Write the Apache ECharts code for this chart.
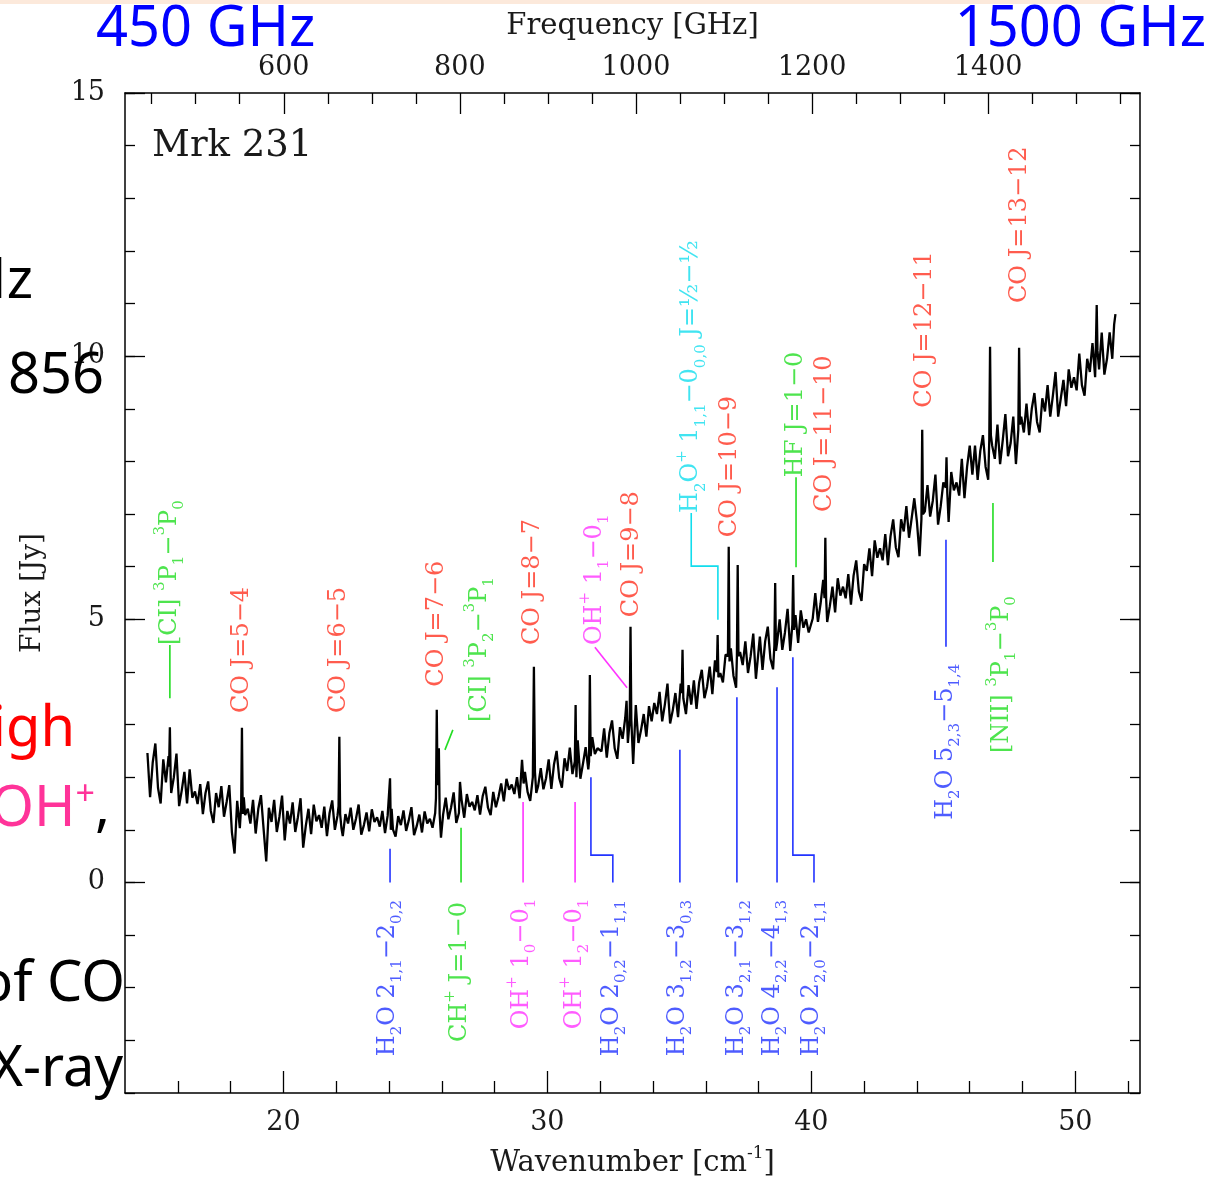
<!DOCTYPE html>
<html>
<head>
<meta charset="utf-8">
<script src="https://cdn.jsdelivr.net/npm/echarts@6/dist/echarts.min.js"></script>
<style>
  html, body { margin: 0; background: #fff; }
  #chart { width: 1225px; height: 1180px; }
</style>
</head>
<body>
<div id="chart"></div>
<script>
// Mrk 231 FTS spectrum, wavenumber [cm^-1] vs flux [Jy]
const spectrum = [
  [14.85,2.46],[14.95,1.62],[15.05,2.28],[15.15,2.64],[15.25,1.80],[15.35,1.50],[15.45,2.34],[15.55,1.90],
  [15.65,2.40],[15.67,2.20],[15.70,2.95],[15.73,2.00],[15.75,1.70],[15.85,2.00],[15.95,2.45],[16.05,1.45],
  [16.15,1.75],[16.25,2.10],[16.35,1.50],[16.45,2.15],[16.55,1.61],[16.65,1.73],[16.75,1.49],[16.85,1.87],
  [16.95,1.30],[17.05,1.70],[17.15,1.92],[17.25,1.36],[17.35,1.13],[17.45,1.70],[17.55,1.43],[17.65,1.83],
  [17.75,1.25],[17.85,1.53],[17.95,1.85],[18.05,0.95],[18.15,0.55],[18.25,1.55],[18.35,1.03],[18.40,1.45],
  [18.43,2.94],[18.46,1.30],[18.50,1.62],[18.55,1.28],[18.65,1.40],[18.75,1.12],[18.85,1.57],[18.95,0.93],
  [19.05,1.40],[19.15,1.66],[19.25,1.02],[19.35,0.40],[19.45,1.42],[19.55,1.15],[19.65,1.57],[19.75,0.96],
  [19.85,1.25],[19.95,1.65],
  [20.05,0.80],[20.15,1.36],[20.25,1.12],[20.35,1.52],[20.45,0.96],[20.55,1.24],[20.65,1.60],[20.75,0.66],
  [20.85,1.08],[20.95,1.40],[21.05,0.92],[21.15,1.48],[21.25,1.16],[21.35,1.28],[21.45,1.04],[21.55,1.44],
  [21.65,0.88],[21.75,1.32],[21.85,1.56],[21.95,1.00],
  [22.05,1.27],[22.09,1.45],[22.12,2.77],[22.15,1.30],[22.20,1.03],[22.25,0.88],[22.35,1.30],[22.45,1.12],
  [22.55,1.42],[22.65,1.00],[22.75,1.21],[22.85,1.48],[22.95,0.91],[23.05,1.09],[23.15,1.33],[23.25,0.97],
  [23.35,1.39],[23.45,1.15],[23.55,1.24],[23.65,1.06],[23.75,1.36],[23.85,0.94],[23.95,1.27],
  [24.01,1.25],[24.04,1.98],[24.07,1.00],[24.10,1.40],[24.15,1.01],[24.25,0.87],[24.35,1.26],[24.45,1.09],
  [24.55,1.37],[24.65,0.98],[24.75,1.18],[24.85,1.43],[24.95,0.90],[25.05,1.07],[25.15,1.29],[25.25,0.95],
  [25.35,1.35],[25.45,1.12],[25.55,1.21],[25.65,1.04],[25.75,1.32],[25.78,1.60],[25.81,3.28],[25.84,1.85],
  [25.87,2.00],[25.89,2.55],[25.92,1.30],[25.97,0.85],
  [26.05,1.29],[26.15,1.61],[26.25,1.20],[26.35,1.42],[26.45,1.71],[26.55,1.13],[26.65,1.32],[26.69,1.91],
  [26.75,1.57],[26.85,1.23],[26.95,1.68],[27.05,1.44],[27.15,1.53],[27.25,1.37],[27.35,1.66],[27.45,1.29],
  [27.55,1.64],[27.65,1.82],[27.75,1.42],[27.85,1.28],[27.95,1.72],
  [28.05,1.43],[28.15,1.63],[28.25,1.88],[28.35,1.54],[28.45,1.97],[28.55,1.76],[28.65,1.86],[28.75,1.68],
  [28.85,2.00],[28.95,1.60],[29.04,2.33],[29.10,1.88],[29.15,2.10],[29.25,1.72],[29.35,1.55],[29.45,2.00],
  [29.49,4.10],[29.53,2.10],[29.58,1.70],[29.65,1.83],[29.75,2.17],[29.85,1.77],[29.95,1.98],
  [30.05,2.34],[30.15,1.78],[30.25,2.24],[30.35,2.50],[30.45,1.98],[30.55,1.80],[30.65,2.36],[30.75,2.12],
  [30.85,2.56],[30.95,2.06],[31.04,2.30],[31.07,3.37],[31.10,2.00],[31.15,2.70],[31.25,1.97],[31.35,2.26],
  [31.45,2.57],[31.55,2.15],[31.58,2.30],[31.61,3.94],[31.64,2.40],[31.70,2.76],[31.80,2.44],[31.90,2.55],
  [32.05,2.49],[32.15,2.93],[32.25,2.37],[32.35,2.84],[32.45,3.08],[32.55,2.55],[32.65,2.35],[32.75,2.95],
  [32.85,2.73],[32.95,3.13],[33.00,3.45],[33.05,2.65],[33.12,3.10],[33.15,4.86],[33.18,3.10],[33.25,2.25],
  [33.35,3.37],[33.45,2.65],[33.55,2.90],[33.65,3.20],[33.75,2.77],[33.85,3.35],[33.95,3.06],
  [34.05,3.41],[34.15,3.20],[34.25,3.62],[34.35,3.06],[34.45,3.38],[34.55,3.78],[34.65,3.02],[34.75,3.27],
  [34.85,3.60],[34.95,3.14],[35.05,3.78],[35.09,3.60],[35.12,4.42],[35.15,3.50],[35.25,3.20],[35.35,3.75],
  [35.45,3.38],[35.55,3.84],[35.65,3.30],[35.75,3.80],[35.85,4.04],[35.95,3.50],
  [36.05,3.72],[36.15,4.10],[36.25,3.58],[36.35,4.22],[36.42,4.00],[36.45,4.70],[36.48,3.90],[36.55,3.98],
  [36.65,3.80],[36.75,4.33],[36.84,4.30],[36.87,6.38],[36.90,4.20],[36.95,4.45],[37.05,3.93],[37.15,3.70],
  [37.18,4.30],[37.21,6.03],[37.24,4.30],[37.30,4.38],[37.40,4.13],[37.50,4.58],[37.60,3.98],[37.70,4.30],
  [37.80,4.73],[37.90,3.87],
  [38.05,4.67],[38.15,4.04],[38.25,4.58],[38.35,4.86],[38.45,4.25],[38.55,4.05],[38.60,4.50],[38.63,5.69],
  [38.66,4.40],[38.70,4.55],[38.80,5.00],[38.90,4.42],[39.00,4.75],[39.10,5.20],[39.20,4.40],[39.28,4.90],
  [39.31,5.84],[39.34,4.80],[39.40,5.08],[39.50,4.55],[39.60,5.17],[39.70,4.84],[39.80,5.00],[39.90,4.75],
  [40.05,5.01],[40.15,5.50],[40.25,4.95],[40.35,5.30],[40.45,5.75],[40.50,5.40],[40.53,6.55],[40.56,5.40],
  [40.60,4.95],[40.70,5.25],[40.80,5.62],[40.90,5.13],[41.00,5.78],[41.10,5.45],[41.20,5.62],[41.30,5.40],
  [41.40,5.86],[41.50,5.28],[41.60,5.83],[41.70,6.12],[41.80,5.53],[41.90,5.35],
  [42.00,6.05],[42.10,5.92],[42.20,6.35],[42.30,5.82],[42.40,6.50],[42.50,6.17],[42.60,6.35],[42.70,6.12],
  [42.80,6.62],[42.90,6.03],[43.00,6.58],[43.10,6.90],[43.20,6.37],[43.30,6.18],[43.40,6.90],[43.50,6.67],
  [43.60,7.15],[43.70,6.55],[43.80,6.92],[43.90,7.30],[44.00,6.85],
  [44.10,6.20],[44.17,6.90],[44.20,8.60],[44.23,7.00],[44.30,7.05],[44.40,7.55],[44.50,6.95],[44.60,7.25],
  [44.70,7.75],[44.80,6.80],[44.90,7.15],[45.00,7.60],[45.09,7.50],[45.12,8.08],[45.15,7.40],[45.20,6.85],
  [45.30,7.80],[45.40,7.45],[45.50,7.60],[45.60,7.35],[45.70,8.05],[45.80,7.30],[45.90,7.90],[46.00,8.30],
  [46.10,7.75],[46.20,8.30],[46.30,7.65],[46.40,8.20],[46.50,8.50],[46.60,7.90],[46.70,7.65],[46.74,8.40],
  [46.77,10.18],[46.80,8.50],[46.85,8.30],[46.95,8.05],[47.05,8.70],[47.15,7.95],[47.25,8.40],[47.35,8.90],
  [47.45,8.10],[47.55,8.35],[47.65,8.85],[47.75,7.95],[47.84,8.60],[47.87,10.16],[47.90,8.70],[47.95,8.85],
  [48.05,8.55],[48.15,9.10],[48.25,8.50],[48.35,9.00],[48.45,9.30],[48.55,8.75],[48.65,8.55],[48.75,9.20],
  [48.85,8.95],[48.95,9.45],[49.05,8.85],[49.15,9.25],[49.25,9.70],[49.35,8.85],[49.45,9.20],[49.55,9.55],
  [49.65,9.05],[49.75,9.75],[49.85,9.40],[49.95,9.60],[50.05,9.35],[50.15,10.05],[50.25,9.45],[50.35,9.25],
  [50.45,9.95],[50.55,9.70],[50.65,10.25],[50.75,9.60],[50.78,10.20],[50.81,10.97],[50.84,10.10],[50.90,9.75],
  [51.00,10.45],[51.10,9.65],[51.20,9.95],[51.30,10.45],[51.40,9.95],[51.47,10.60],[51.52,10.80]
];

// line identifications: [wavenumber, flux where the text starts, text, colour group]
const lineLabels = [
  [15.70, 4.51, '[CI] ^3P_1−^3P_0', 'green'],
  [18.43, 3.22, 'CO J=5−4', 'red'],
  [22.11, 3.22, 'CO J=6−5', 'red'],
  [25.82, 3.72, 'CO J=7−6', 'red'],
  [27.45, 3.05, '[CI] ^3P_2−^3P_1', 'green'],
  [29.45, 4.51, 'CO J=8−7', 'red'],
  [31.80, 4.51, 'OH^+ 1_1−0_1', 'magenta'],
  [33.20, 5.04, 'CO J=9−8', 'red'],
  [35.45, 7.02, 'H_2O^+ 1_{1,1}−0_{0,0} J=½−½', 'cyan'],
  [36.92, 6.56, 'CO J=10−9', 'red'],
  [39.42, 7.70, 'HF J=1−0', 'green'],
  [40.52, 7.04, 'CO J=11−10', 'red'],
  [44.30, 9.02, 'CO J=12−11', 'red'],
  [47.90, 11.01, 'CO J=13−12', 'red'],
  [45.10, 1.19, 'H_2O 5_{2,3}−5_{1,4}', 'blue'],
  [47.22, 2.46, '[NII] ^3P_1−^3P_0', 'green'],
  [23.96, -3.30, 'H_2O 2_{1,1}−2_{0,2}', 'blue'],
  [26.69, -3.03, 'CH^+ J=1−0', 'green'],
  [29.04, -2.79, 'OH^+ 1_0−0_1', 'magenta'],
  [31.05, -2.79, 'OH^+ 1_2−0_1', 'magenta'],
  [32.45, -3.30, 'H_2O 2_{0,2}−1_{1,1}', 'blue'],
  [34.95, -3.30, 'H_2O 3_{1,2}−3_{0,3}', 'blue'],
  [37.18, -3.30, 'H_2O 3_{2,1}−3_{1,2}', 'blue'],
  [38.55, -3.30, 'H_2O 4_{2,2}−4_{1,3}', 'blue'],
  [40.02, -3.30, 'H_2O 2_{2,0}−2_{1,1}', 'blue']
];

// tick marks / leader lines joining the labels to the lines
const lineMarkers = [
  ['green', [[15.70, 3.50], [15.70, 4.51]]],
  ['green', [[26.12, 2.52], [26.42, 2.90]]],
  ['magenta', [[33.02, 3.70], [31.80, 4.47]]],
  ['cyan', [[35.45, 7.02], [35.45, 6.01], [36.46, 6.01], [36.46, 4.99]]],
  ['green', [[39.42, 7.70], [39.42, 5.99]]],
  ['blue', [[45.10, 6.51], [45.10, 4.48]]],
  ['green', [[46.88, 7.21], [46.88, 6.09]]],
  ['blue', [[24.04, 0.64], [24.04, 0]]],
  ['green', [[26.73, 1.04], [26.73, 0]]],
  ['magenta', [[29.08, 1.53], [29.08, 0]]],
  ['magenta', [[31.05, 1.53], [31.05, 0]]],
  ['blue', [[31.65, 2.00], [31.65, 0.52], [32.48, 0.52], [32.48, 0]]],
  ['blue', [[35.02, 2.52], [35.02, 0]]],
  ['blue', [[37.18, 3.52], [37.18, 0]]],
  ['blue', [[38.70, 3.71], [38.70, 0]]],
  ['blue', [[39.30, 4.28], [39.30, 0.52], [40.10, 0.52], [40.10, 0]]]
];

const wavenumberRange = [14, 52.45];
const fluxRange = [-4, 15];
const wavenumberMajor = [20, 30, 40, 50];
const wavenumberMinor = [16, 18, 22, 24, 26, 28, 32, 34, 36, 38, 42, 44, 46, 48, 52];
const freqMajor = [600, 800, 1000, 1200, 1400];
const freqMinor = [450, 500, 550, 650, 700, 750, 850, 900, 950, 1050, 1100, 1150, 1250, 1300, 1350, 1450, 1500, 1550];
const fluxMajor = [0, 5, 10, 15];
const GHZ_PER_CM = 29.9792458;

const colors = {
  red: '#ff3322',
  green: '#22dd22',
  blue: '#2233ff',
  magenta: '#ff33ff',
  cyan: '#11dded'
};

const SERIF = "'DejaVu Serif', serif";
const SANS = "'Noto Sans', 'Open Sans', sans-serif";

// "H_2O^+ 1_{1,1}" -> rich text tokens
function toRich(s) {
  let out = '', buf = '';
  for (let i = 0; i < s.length; i++) {
    const c = s[i];
    if (c === '_' || c === '^') {
      let grp;
      if (s[i + 1] === '{') {
        const j = s.indexOf('}', i + 2);
        grp = s.slice(i + 2, j);
        i = j;
      } else {
        grp = s[i + 1];
        i++;
      }
      if (buf) { out += '{n|' + buf + '}'; buf = ''; }
      out += '{' + (c === '_' ? 'sb' : 'sp') + '|' + grp + '}';
    } else {
      buf += c;
    }
  }
  if (buf) out += '{n|' + buf + '}';
  return out;
}

function richFor(color) {
  return {
    n: { fontFamily: SERIF, fontSize: 24, lineHeight: 34, color: color },
    sb: { fontFamily: SERIF, fontSize: 15, lineHeight: 20, verticalAlign: 'bottom', color: color },
    sp: { fontFamily: SERIF, fontSize: 15, lineHeight: 15, verticalAlign: 'top', color: color }
  };
}

const axisLine = { show: true, onZero: false, lineStyle: { color: '#000', width: 1.5 } };
const noLine = { show: false, onZero: false };
const tickStyle = { color: '#000', width: 1.3 };
const tickLabel = { fontFamily: SERIF, fontSize: 27, color: '#1a1a1a', formatter: v => String(Math.round(v)) };

const labelSeries = Object.keys(colors).map(function (key) {
  return {
    type: 'scatter',
    silent: true,
    symbolSize: 0.1,
    itemStyle: { color: 'transparent' },
    z: 5,
    data: lineLabels.filter(d => d[3] === key).map(d => [d[0], d[1], d[2]]),
    label: {
      show: true,
      position: 'inside',
      align: 'left',
      verticalAlign: 'middle',
      rotate: 90,
      formatter: p => toRich(p.data[2]),
      rich: richFor(colors[key])
    }
  };
});

const chart = echarts.init(document.getElementById('chart'));
chart.setOption({
  animation: false,
  backgroundColor: '#fff',
  textStyle: { fontFamily: SERIF },
  grid: { left: 125, top: 93, width: 1015, height: 1000, outerBoundsMode: 'none' },
  xAxis: [
    {
      type: 'value', position: 'bottom', min: wavenumberRange[0], max: wavenumberRange[1],
      axisLine: axisLine,
      axisTick: { inside: true, length: 22, customValues: wavenumberMajor, lineStyle: tickStyle },
      axisLabel: Object.assign({ customValues: wavenumberMajor, margin: 16 }, tickLabel),
      splitLine: { show: false },
      name: '{n|Wavenumber [cm}{sp|-1}{n|]}',
      nameLocation: 'middle', nameGap: 52,
      nameTextStyle: {
        rich: {
          n: { fontFamily: SERIF, fontSize: 29, lineHeight: 36, color: '#1a1a1a' },
          sp: { fontFamily: SERIF, fontSize: 17, lineHeight: 17, verticalAlign: 'top', color: '#1a1a1a' }
        }
      }
    },
    {
      type: 'value', position: 'bottom', min: wavenumberRange[0], max: wavenumberRange[1],
      axisLine: noLine,
      axisTick: { inside: true, length: 12, customValues: wavenumberMinor, lineStyle: tickStyle },
      axisLabel: { show: false }, splitLine: { show: false }
    },
    {
      type: 'value', position: 'top',
      min: wavenumberRange[0] * GHZ_PER_CM, max: wavenumberRange[1] * GHZ_PER_CM,
      axisLine: axisLine,
      axisTick: { inside: true, length: 21, customValues: freqMajor, lineStyle: tickStyle },
      axisLabel: Object.assign({ customValues: freqMajor, margin: 12 }, tickLabel),
      splitLine: { show: false },
      name: 'Frequency [GHz]', nameLocation: 'middle', nameGap: 52,
      nameTextStyle: { fontFamily: SERIF, fontSize: 29, color: '#1a1a1a' }
    },
    {
      type: 'value', position: 'top',
      min: wavenumberRange[0] * GHZ_PER_CM, max: wavenumberRange[1] * GHZ_PER_CM,
      axisLine: noLine,
      axisTick: { inside: true, length: 11, customValues: freqMinor, lineStyle: tickStyle },
      axisLabel: { show: false }, splitLine: { show: false }
    }
  ],
  yAxis: [
    {
      type: 'value', position: 'left', min: fluxRange[0], max: fluxRange[1],
      axisLine: axisLine,
      axisTick: { inside: true, length: 20, customValues: fluxMajor, lineStyle: tickStyle },
      axisLabel: Object.assign({ customValues: fluxMajor, margin: 20 }, tickLabel),
      splitLine: { show: false },
      name: 'Flux [Jy]', nameLocation: 'middle', nameGap: 78, nameRotate: 90,
      nameTextStyle: { fontFamily: SERIF, fontSize: 28, color: '#1a1a1a' }
    },
    {
      type: 'value', position: 'left', min: fluxRange[0], max: fluxRange[1], interval: 1,
      axisLine: noLine,
      axisTick: { inside: true, length: 10, lineStyle: tickStyle },
      axisLabel: { show: false }, splitLine: { show: false }
    },
    {
      type: 'value', position: 'right', min: fluxRange[0], max: fluxRange[1],
      axisLine: axisLine,
      axisTick: { inside: true, length: 20, customValues: fluxMajor, lineStyle: tickStyle },
      axisLabel: { show: false }, splitLine: { show: false }
    },
    {
      type: 'value', position: 'right', min: fluxRange[0], max: fluxRange[1], interval: 1,
      axisLine: noLine,
      axisTick: { inside: true, length: 10, lineStyle: tickStyle },
      axisLabel: { show: false }, splitLine: { show: false }
    }
  ],
  series: [
    {
      type: 'line',
      data: spectrum,
      showSymbol: false,
      symbol: 'none',
      silent: true,
      z: 3,
      lineStyle: { color: '#000', width: 2.3 }
    },
    {
      type: 'lines',
      coordinateSystem: 'cartesian2d',
      polyline: true,
      silent: true,
      z: 4,
      lineStyle: { width: 1.6, opacity: 1 },
      data: lineMarkers.map(m => ({ coords: m[1], lineStyle: { color: colors[m[0]] } }))
    }
  ].concat(labelSeries),
  graphic: [
    { type: 'rect', shape: { x: 0, y: 0, width: 1115, height: 4 }, style: { fill: '#fce9db' }, z: 100 },
    { type: 'text', x: 152, y: 146, z: 100,
      style: { text: 'Mrk 231', fontFamily: SERIF, fontSize: 37, fill: '#1a1a1a', align: 'left', verticalAlign: 'middle' } },
    { type: 'text', x: 96, y: 30, z: 100,
      style: { text: '450 GHz', fontFamily: SANS, fontSize: 56, fill: '#0000ff', align: 'left', verticalAlign: 'middle' } },
    { type: 'text', x: 1206, y: 30, z: 100,
      style: { text: '1500 GHz', fontFamily: SANS, fontSize: 56, fill: '#0000ff', align: 'right', verticalAlign: 'middle' } },
    { type: 'text', x: 33, y: 282, z: 100,
      style: { text: 'Hz', fontFamily: SANS, fontSize: 56, fill: '#000', align: 'right', verticalAlign: 'middle' } },
    { type: 'text', x: 104, y: 377, z: 100,
      style: { text: '856', fontFamily: SANS, fontSize: 56, fill: '#000', align: 'right', verticalAlign: 'middle' } },
    { type: 'text', x: 75, y: 730, z: 100,
      style: { text: 'igh', fontFamily: SANS, fontSize: 56, fill: '#ff0000', align: 'right', verticalAlign: 'middle' } },
    { type: 'text', x: 110, y: 810, z: 100,
      style: {
        text: '{p|OH}{ps|+}{k|,}', align: 'right', verticalAlign: 'middle',
        rich: {
          p: { fontFamily: SANS, fontSize: 56, lineHeight: 64, fill: '#ff3399' },
          ps: { fontFamily: SANS, fontSize: 34, lineHeight: 34, verticalAlign: 'top', fill: '#ff3399' },
          k: { fontFamily: SANS, fontSize: 56, lineHeight: 64, fill: '#000' }
        }
      } },
    { type: 'text', x: 125, y: 985, z: 100,
      style: { text: 'of CO', fontFamily: SANS, fontSize: 56, fill: '#000', align: 'right', verticalAlign: 'middle' } },
    { type: 'text', x: 123, y: 1070, z: 100,
      style: { text: 'X-ray', fontFamily: SANS, fontSize: 56, fill: '#000', align: 'right', verticalAlign: 'middle' } }
  ]
});
</script>
</body>
</html>
